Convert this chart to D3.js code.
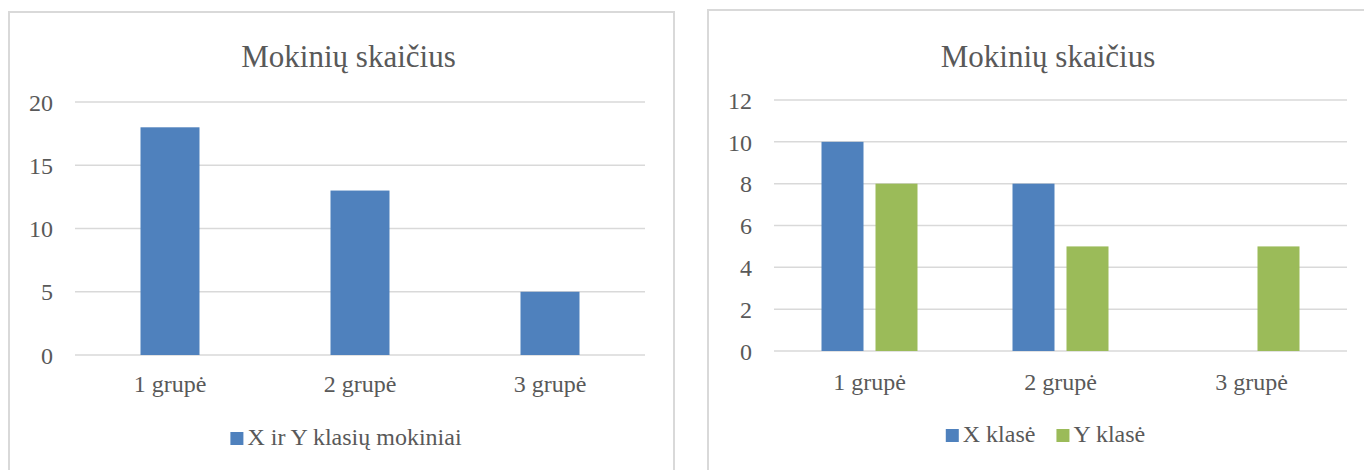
<!DOCTYPE html>
<html><head><meta charset="utf-8">
<script src="https://cdn.jsdelivr.net/npm/d3@7"></script>
<style>
body{margin:0;background:#fff;}
text{font-family:"Liberation Serif","Times New Roman",serif;fill:#595959;}
</style></head>
<body>
<svg id="c" width="1364" height="470"></svg>
<script>
const categories = ["1 grupė", "2 grupė", "3 grupė"];
const leftSeriesName = "X ir Y klasių mokiniai";
const leftValues = [18, 13, 5];
const leftTicks = [0, 5, 10, 15, 20];
const rightSeriesNames = ["X klasė", "Y klasė"];
const rightX = [10, 8, 0];
const rightY = [8, 5, 5];
const rightTicks = [0, 2, 4, 6, 8, 10, 12];
const title = "Mokinių skaičius";

const BLUE = "#4F81BD", GREEN = "#9BBB59", GRID = "#d9d9d9";
const svg = d3.select("#c");

// chart frames
svg.append("rect").attr("x", 9).attr("y", 12).attr("width", 665).attr("height", 470)
  .attr("fill", "none").attr("stroke", GRID).attr("stroke-width", 2);
svg.append("rect").attr("x", 708).attr("y", 10).attr("width", 700).attr("height", 470)
  .attr("fill", "none").attr("stroke", GRID).attr("stroke-width", 2);

function drawChart(opt) {
  const g = svg.append("g");
  const x = d3.scaleBand().domain(categories).range([opt.x0, opt.x1]).padding(0);
  const y = d3.scaleLinear().domain([0, d3.max(opt.ticks)]).range([opt.yBottom, opt.yTop]);

  // gridlines
  g.selectAll(".grid").data(opt.ticks).join("line")
    .attr("x1", opt.x0).attr("x2", opt.x1)
    .attr("y1", d => y(d)).attr("y2", d => y(d))
    .attr("stroke", GRID).attr("stroke-width", 1.5);

  // y axis labels via d3 axis
  const ax = g.append("g").attr("transform", `translate(${opt.x0 - 22},0)`)
    .call(d3.axisLeft(y).tickValues(opt.ticks).tickSize(0).tickPadding(0));
  ax.select(".domain").remove();
  ax.selectAll("text").style("font-family", '"Liberation Serif",serif')
    .style("font-size", "24px").attr("fill", "#595959").attr("dy", "0.34em");

  // bars
  const n = opt.series.length;
  opt.series.forEach((s, si) => {
    const off = (si - (n - 1) / 2) * (opt.barW + opt.gap);
    g.selectAll(".b" + si).data(s.values.map((v, i) => ({v, c: categories[i]}))).join("rect")
      .filter(d => d.v > 0)
      .attr("x", d => x(d.c) + x.bandwidth() / 2 + off - opt.barW / 2)
      .attr("width", opt.barW)
      .attr("y", d => y(d.v))
      .attr("height", d => y(0) - y(d.v))
      .attr("fill", s.color);
  });

  // category labels
  g.selectAll(".cat").data(categories).join("text")
    .attr("x", d => x(d) + x.bandwidth() / 2)
    .attr("y", opt.catY)
    .attr("text-anchor", "middle")
    .style("font-size", "24px")
    .text(d => d);

  // title
  g.append("text").attr("x", opt.titleX).attr("y", opt.titleY)
    .attr("text-anchor", "middle").style("font-size", "31px").text(title);

  // legend
  const lg = g.append("g");
  let cx = opt.legendX;
  opt.series.forEach((s, si) => {
    lg.append("rect").attr("x", cx).attr("y", opt.legendY - 13).attr("width", 13).attr("height", 13).attr("fill", s.color);
    const t = lg.append("text").attr("x", cx + 17).attr("y", opt.legendY).style("font-size", "24px").text(s.name);
    const w = t.node().getComputedTextLength();
    cx += 17 + w + opt.legendGap;
  });
  // center legend
  const total = cx - opt.legendGap - opt.legendX;
  lg.attr("transform", `translate(${opt.legendCenter - total / 2 - opt.legendX},0)`);
}

drawChart({
  x0: 75, x1: 645, yTop: 102, yBottom: 355, ticks: leftTicks,
  series: [{name: leftSeriesName, values: leftValues, color: BLUE}],
  barW: 59, gap: 0, catY: 392, titleX: 348.5, titleY: 67,
  legendX: 0, legendY: 445, legendGap: 20, legendCenter: 346
});

drawChart({
  x0: 774, x1: 1347, yTop: 100, yBottom: 351, ticks: rightTicks,
  series: [{name: rightSeriesNames[0], values: rightX, color: BLUE},
           {name: rightSeriesNames[1], values: rightY, color: GREEN}],
  barW: 42, gap: 12, catY: 390, titleX: 1048, titleY: 67,
  legendX: 0, legendY: 442, legendGap: 21, legendCenter: 1045.5
});
</script>
</body></html>
